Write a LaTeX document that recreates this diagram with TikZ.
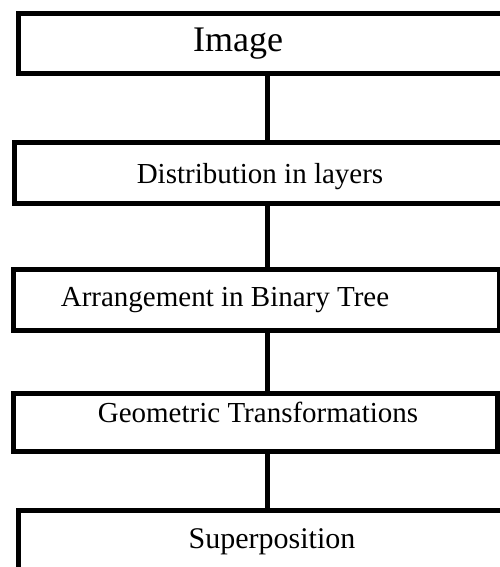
\documentclass[tikz,border=0pt]{standalone}
\usepackage{fontspec}
\setmainfont{Liberation Serif}
\begin{document}
\begin{tikzpicture}[x=1pt, y=-1pt,
    etapa/.style={draw, line width=5pt, rectangle, inner sep=0pt},
    enlace/.style={line width=5pt},
    texto/.style={anchor=base, inner sep=0pt, font=\fontsize{29}{34}\selectfont}]

    % Fijamos el marco de la figura
    \useasboundingbox (0,0) rectangle (500,567);
    \clip (0,0) rectangle (500,567);

    % Dibujamos las cajas
    \node[etapa, minimum width=492pt, minimum height=60pt] (image) at (264,43.5) {};
    \node[etapa, minimum width=496pt, minimum height=60.5pt] (layers) at (262,172.75) {};
    \node[etapa, minimum width=486pt, minimum height=60.5pt] (tree) at (256,299.75) {};
    \node[etapa, minimum width=484.5pt, minimum height=58.5pt] (geometry) at (255.25,422.25) {};
    \node[etapa, minimum width=492pt, minimum height=70pt] (superpos) at (264,545) {};

    % Escribimos los textos
    \node[texto, font=\fontsize{36}{40}\selectfont] (imagetxt) at (238,52) {Image};
    \node[texto] (layerstxt) at (260,183) {Distribution in layers};
    \node[texto] (treetxt) at (225,306.5) {Arrangement in Binary Tree};
    \node[texto] (geometrytxt) at (258,422.5) {Geometric Transformations};
    \node[texto, font=\fontsize{30}{34}\selectfont] (superpostxt) at (272,548) {Superposition};

    % Unimos las cajas
    \coordinate (eje) at (267,0);
    \foreach \a/\b in {image/layers,layers/tree,tree/geometry,geometry/superpos}
        \draw[enlace] (\a.south -| eje) -- (\b.north -| eje);

\end{tikzpicture}
\end{document}
